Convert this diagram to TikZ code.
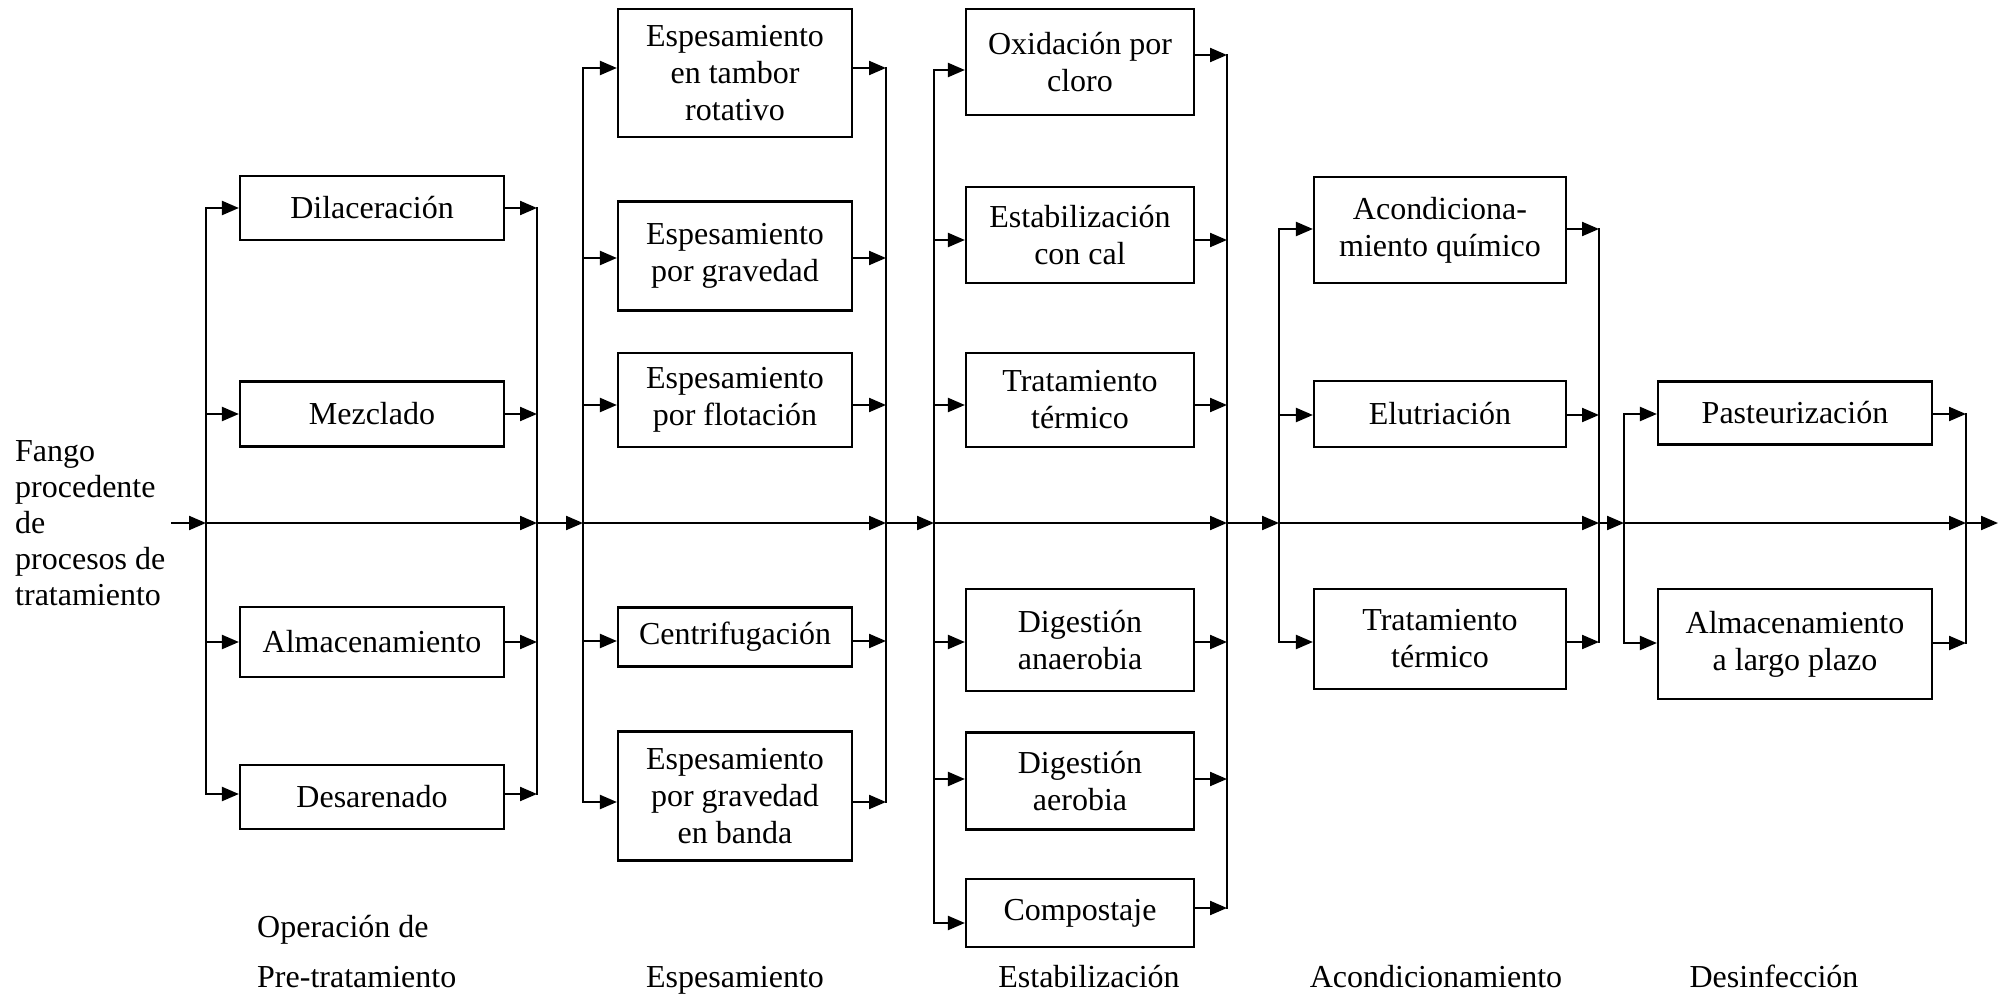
\documentclass[tikz,border=0pt]{standalone}
\usepackage{fontspec}
\setmainfont{Liberation Serif}
\usetikzlibrary{arrows.meta}
\begin{document}
\begin{tikzpicture}[x=1pt,y=-1pt,
  box/.style={draw, line width=2.2pt, inner sep=0pt, align=center,
              font=\fontsize{32}{37}\selectfont},
  lbl/.style={inner sep=0pt, font=\fontsize{32}{36}\selectfont},
  wire/.style={line width=2.2pt, line cap=rect},
  flow/.style={line width=2.2pt, -{Triangle[length=17pt,width=14pt]}}]
\useasboundingbox (0,0) rectangle (2005,1000);

% --- Pre-treatment column ---
\foreach \n/\cy/\h/\ya/\yb/\t in {
  dil/208/64/208/208/{Dilaceración},
  mez/414/65/414/414/{Mezclado},
  alm/642/70/642/642/{Almacenamiento},
  des/797/64/794/794/{Desarenado}} {
  \node[box, minimum width=264pt, minimum height=\h pt] (\n) at (372,\cy) {\t};
  \coordinate (\n-i) at (206,\ya);
  \coordinate (\n-o) at (537,\yb);
  \draw[flow] (\n-i) -- (\n-i -| \n.west);
  \draw[flow] (\n.east |- \n-o) -- (\n-o);
}
\draw[wire] (dil-i) -- (des-i);
\draw[wire] (dil-o) -- (des-o);

% --- Thickening column ---
\foreach \n/\cy/\h/\ya/\yb/\t in {
  ea/73/128/68/68/{Espesamiento\\en tambor\\rotativo},
  eb/256/109/258/258/{Espesamiento\\por gravedad},
  ec/400/94/405/405/{Espesamiento\\por flotación},
  cen/637/59/641/641/{Centrifugación},
  ed/796/129/802/802/{Espesamiento\\por gravedad\\en banda}} {
  \node[box, minimum width=234pt, minimum height=\h pt] (\n) at (735,\cy) {\t};
  \coordinate (\n-i) at (583,\ya);
  \coordinate (\n-o) at (886,\yb);
  \draw[flow] (\n-i) -- (\n-i -| \n.west);
  \draw[flow] (\n.east |- \n-o) -- (\n-o);
}
\draw[wire] (ea-i) -- (ed-i);
\draw[wire] (ea-o) -- (ed-o);

% --- Stabilisation column ---
\foreach \n/\cy/\h/\ya/\yb/\t in {
  ox/62/106/70/55/{Oxidación por\\cloro},
  est/235/96/240/240/{Estabilización\\con cal},
  tt/400/94/405/405/{Tratamiento\\térmico},
  dan/640/102/642/642/{Digestión\\anaerobia},
  dae/781/97/779/779/{Digestión\\aerobia},
  com/913/68/923/908/{Compostaje}} {
  \node[box, minimum width=228pt, minimum height=\h pt] (\n) at (1080,\cy) {\t};
  \coordinate (\n-i) at (934,\ya);
  \coordinate (\n-o) at (1227,\yb);
  \draw[flow] (\n-i) -- (\n-i -| \n.west);
  \draw[flow] (\n.east |- \n-o) -- (\n-o);
}
\draw[wire] (ox-i) -- (com-i);
\draw[wire] (ox-o) -- (com-o);

% --- Conditioning column ---
\foreach \n/\cy/\h/\ya/\yb/\t in {
  aq/230/106/229/229/{Acondiciona-\\miento químico},
  elu/414/66/415/415/{Elutriación},
  tk/639/100/642/642/{Tratamiento\\térmico}} {
  \node[box, minimum width=252pt, minimum height=\h pt] (\n) at (1440,\cy) {\t};
  \coordinate (\n-i) at (1279,\ya);
  \coordinate (\n-o) at (1599,\yb);
  \draw[flow] (\n-i) -- (\n-i -| \n.west);
  \draw[flow] (\n.east |- \n-o) -- (\n-o);
}
\draw[wire] (aq-i) -- (tk-i);
\draw[wire] (aq-o) -- (tk-o);

% --- Disinfection column ---
\foreach \n/\cy/\h/\ya/\yb/\t in {
  pas/413/63/414/414/{Pasteurización},
  alp/644/110/643/643/{Almacenamiento\\a largo plazo}} {
  \node[box, minimum width=274pt, minimum height=\h pt] (\n) at (1795,\cy) {\t};
  \coordinate (\n-i) at (1624,\ya);
  \coordinate (\n-o) at (1966,\yb);
  \draw[flow] (\n-i) -- (\n-i -| \n.west);
  \draw[flow] (\n.east |- \n-o) -- (\n-o);
}
\draw[wire] (pas-i) -- (alp-i);
\draw[wire] (pas-o) -- (alp-o);

% --- Main bypass line ---
\coordinate (in0) at (171,523);
\coordinate (m1L) at (206,523);  \coordinate (m1R) at (537,523);
\coordinate (m2L) at (583,523);  \coordinate (m2R) at (886,523);
\coordinate (m3L) at (934,523);  \coordinate (m3R) at (1227,523);
\coordinate (m4L) at (1279,523); \coordinate (m4R) at (1599,523);
\coordinate (m5L) at (1624,523); \coordinate (m5R) at (1966,523);
\coordinate (out) at (1998,523);
\foreach \a/\b in {in0/m1L, m1L/m1R, m1R/m2L, m2L/m2R, m2R/m3L, m3L/m3R,
                   m3R/m4L, m4L/m4R, m4R/m5L, m5L/m5R, m5R/out}
  \draw[flow] (\a) -- (\b);

% --- Labels ---
\node[lbl, anchor=base west, align=left] (src) at (15,605)
  {Fango\\procedente\\de\\procesos de\\tratamiento};
\node[lbl, anchor=base west] (op1) at (257,937) {Operación de};
\node[lbl, anchor=base west] (op2) at (257,987) {Pre-tratamiento};
\node[lbl, anchor=base] (op3) at (735,987) {Espesamiento};
\node[lbl, anchor=base] (op4) at (1089,987) {Estabilización};
\node[lbl, anchor=base] (op5) at (1436,987) {Acondicionamiento};
\node[lbl, anchor=base] (op6) at (1774,987) {Desinfección};
\end{tikzpicture}
\end{document}
